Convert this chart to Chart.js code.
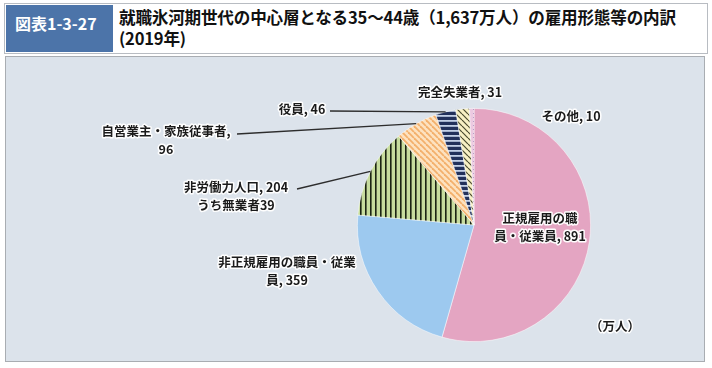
<!DOCTYPE html>
<html>
<head>
<meta charset="utf-8">
<script src="https://cdn.jsdelivr.net/npm/chart.js@4"></script>
<style>
  html, body { margin: 0; padding: 0; background: #fff; }
  body { width: 712px; height: 368px; position: relative; overflow: hidden;
         font-family: "Noto Sans CJK JP", "Noto Sans", sans-serif; }
  #head { position: absolute; left: 4px; top: 3px; width: 702px; height: 49px;
          border: 1px solid #b8bcc2; background: #fff; }
  #fig { position: absolute; left: 1px; top: 1px; width: 107px; height: 47px;
         background: #4c74a9; color: #fff; font-weight: bold; font-size: 16px;
         line-height: 18px; padding: 9px 0 0 9px; box-sizing: border-box; }
  #title { position: absolute; left: 114px; top: 3px; width: 590px; font-weight: bold;
           font-size: 16.6px; line-height: 21px; color: #111; letter-spacing: -0.2px; }
  #panel { position: absolute; left: 5px; top: 56px; width: 700px; height: 306px;
           border: 1px solid #a9adb2; background: #dce3eb; box-sizing: border-box; }
  canvas { position: absolute; left: 0; top: 0; }
</style>
</head>
<body>
<div id="head">
  <div id="fig">図表1-3-27</div>
  <div id="title">就職氷河期世代の中心層となる35～44歳（1,637万人）の雇用形態等の内訳<br>(2019年)</div>
</div>
<div id="panel"></div>
<div style="position:absolute;left:0;top:0;width:712px;height:368px;">
  <canvas id="c"></canvas>
</div>
<script>
// data
const categories = ['正規雇用の職員・従業員', '非正規雇用の職員・従業員', '非労働力人口',
                    '自営業主・家族従事者', '役員', '完全失業者', 'その他'];
const values = [891, 359, 204, 96, 46, 31, 10];
const mugyosha = 39;   // うち無業者
const unitLabel = '（万人）';

// label text lines ({v} = value)
const labelText = [
  ['正規雇用の職', '員・従業員, {v}'],
  ['非正規雇用の職員・従業', '員, {v}'],
  ['非労働力人口, {v}', 'うち無業者' + mugyosha],
  ['自営業主・家族従事者,', '{v}'],
  ['役員, {v}'],
  ['完全失業者, {v}'],
  ['その他, {v}']
];

// where the labels sit on the page, and where leader lines start
const labelPos = [
  { x: 540, y: 218, leader: null },
  { x: 287, y: 262, leader: null },
  { x: 236, y: 187, leader: [297, 189] },
  { x: 166, y: 131, leader: [237, 134] },
  { x: 302, y: 109, leader: [330, 111] },
  { x: 460, y: 92, leader: null },
  { x: 571, y: 116, leader: null }
];

function makePattern(w, h, draw) {
  const cv = document.createElement('canvas');
  cv.width = w; cv.height = h;
  const g = cv.getContext('2d');
  draw(g, w, h);
  return g.createPattern(cv, 'repeat');
}

const greenStripes = makePattern(5, 5, (g, w, h) => {
  g.fillStyle = '#c7dc9e'; g.fillRect(0, 0, w, h);
  g.fillStyle = '#1c2414'; g.fillRect(0, 0, 1.6, h);
});
const orangeDiag = makePattern(6, 6, (g, w, h) => {
  g.fillStyle = '#fde2c0'; g.fillRect(0, 0, w, h);
  g.strokeStyle = '#f3b06c'; g.lineWidth = 1.8;
  for (let k = -1; k <= 1; k++) {
    g.beginPath(); g.moveTo(k * w, 0); g.lineTo(k * w + w, h); g.stroke();
  }
});
const navyStripes = makePattern(5, 5, (g, w, h) => {
  g.fillStyle = '#22315b'; g.fillRect(0, 0, w, h);
  g.fillStyle = '#c3d0e6'; g.fillRect(0, 0, w, 1.8);
});
const beigeDiag = makePattern(6, 6, (g, w, h) => {
  g.fillStyle = '#f7f0c4'; g.fillRect(0, 0, w, h);
  g.strokeStyle = '#4a4a30'; g.lineWidth = 1.2;
  for (let k = -1; k <= 1; k++) {
    g.beginPath(); g.moveTo(k * w, 0); g.lineTo(k * w + w, h); g.stroke();
  }
});
const lilacDots = makePattern(4, 4, (g, w, h) => {
  g.fillStyle = '#ecc9e0'; g.fillRect(0, 0, w, h);
  g.fillStyle = '#9d82b6'; g.fillRect(1, 1, 1, 1);
});

const sliceFill = ['#e4a5c2', '#9dc9ef', greenStripes, orangeDiag, navyStripes, beigeDiag, lilacDots];

const labelPlugin = {
  id: 'pieLabels',
  afterDatasetsDraw(chart) {
    const ctx = chart.ctx;
    const arcs = chart.getDatasetMeta(0).data;
    ctx.save();
    // leader lines
    ctx.strokeStyle = '#2d2d2d';
    ctx.lineWidth = 1.3;
    labelPos.forEach((p, i) => {
      if (!p.leader) return;
      const a = arcs[i];
      const mid = (a.startAngle + a.endAngle) / 2;
      const ex = a.x + Math.cos(mid) * a.outerRadius;
      const ey = a.y + Math.sin(mid) * a.outerRadius;
      ctx.beginPath();
      ctx.moveTo(p.leader[0], p.leader[1]);
      ctx.lineTo(ex, ey);
      ctx.stroke();
    });
    // texts with white halo
    ctx.font = 'bold 12.5px "Noto Sans CJK JP"';
    ctx.textAlign = 'center';
    ctx.textBaseline = 'middle';
    ctx.lineJoin = 'round';
    const drawText = (t, x, y) => {
      ctx.strokeStyle = 'rgba(255,255,255,0.95)';
      ctx.lineWidth = 3;
      ctx.strokeText(t, x, y);
      ctx.fillStyle = '#1a1a1a';
      ctx.fillText(t, x, y);
    };
    labelText.forEach((lines, i) => {
      const p = labelPos[i];
      lines.forEach((ln, j) => {
        drawText(ln.replace('{v}', values[i]), p.x, p.y + j * 18);
      });
    });
    drawText(unitLabel, 615, 326);
    ctx.restore();
  }
};

new Chart(document.getElementById('c'), {
  type: 'pie',
  data: {
    labels: categories,
    datasets: [{
      data: values,
      backgroundColor: sliceFill,
      borderColor: 'rgba(255,255,255,0.6)',
      borderWidth: 0.8
    }]
  },
  options: {
    responsive: true,
    maintainAspectRatio: false,
    animation: false,
    rotation: 0,
    layout: { padding: { left: 357, right: 121, top: 108, bottom: 26 } },
    plugins: {
      legend: { display: false },
      tooltip: { enabled: false }
    }
  },
  plugins: [labelPlugin]
});
</script>
</body>
</html>
